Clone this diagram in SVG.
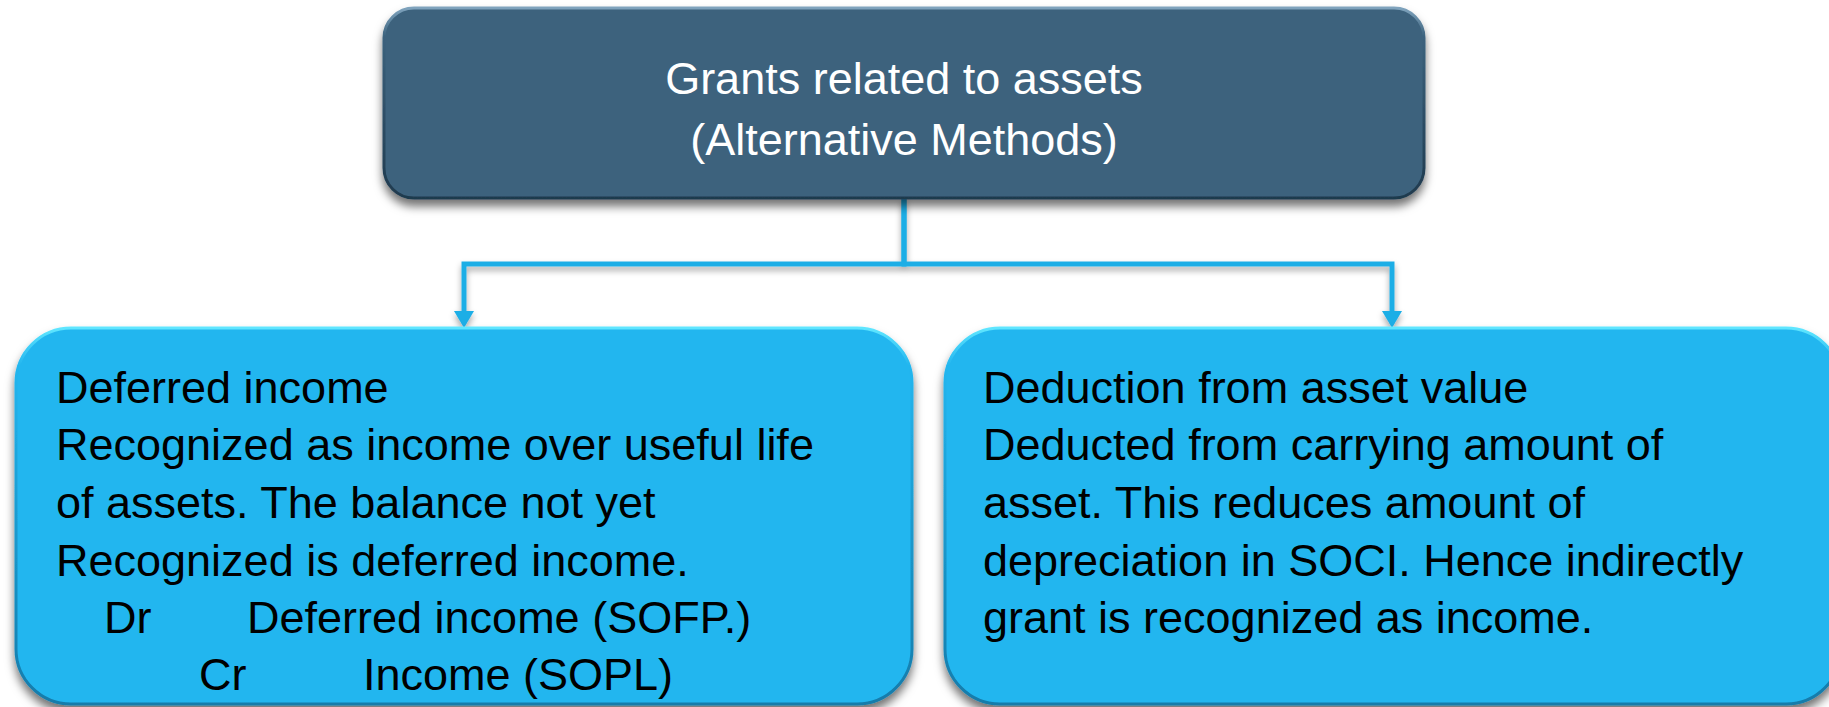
<svg xmlns="http://www.w3.org/2000/svg" width="1829" height="707" viewBox="0 0 1829 707">
  <style>
    .title { font-family: "Liberation Sans", Arial, sans-serif; font-size: 45px; fill: #ffffff; text-anchor: middle; }
    .body { font-family: "Liberation Sans", Arial, sans-serif; font-size: 45px; fill: #000000; }
    .conn { fill: none; stroke: #1faee6; stroke-width: 5; stroke-linejoin: miter; }
  </style>
  <defs>
    <filter id="shadow" x="-10%" y="-10%" width="120%" height="130%">
      <feDropShadow dx="0" dy="7" stdDeviation="5" flood-color="#000000" flood-opacity="0.55"/>
    </filter>
    <filter id="lshadow" x="-10%" y="-10%" width="120%" height="140%">
      <feDropShadow dx="0" dy="4" stdDeviation="3" flood-color="#000000" flood-opacity="0.35"/>
    </filter>
    <linearGradient id="darkRim" x1="0" y1="0" x2="0" y2="1">
      <stop offset="0" stop-color="#7FA3BD"/>
      <stop offset="0.15" stop-color="#3C627D"/>
      <stop offset="1" stop-color="#1F3A4E"/>
    </linearGradient>
    <linearGradient id="cyanRim" x1="0" y1="0" x2="0" y2="1">
      <stop offset="0" stop-color="#5FE6FF"/>
      <stop offset="0.1" stop-color="#23B6EF"/>
      <stop offset="1" stop-color="#137BAA"/>
    </linearGradient>
    <marker id="arrow" markerUnits="userSpaceOnUse" markerWidth="18" markerHeight="20" refX="0" refY="10" orient="auto" overflow="visible">
      <path d="M0,0 L17,10 L0,20 z" fill="#1faee6"/>
    </marker>
  </defs>

  <g id="connectors" filter="url(#lshadow)">
    <path class="conn" d="M904,198 V264 H464 V311" marker-end="url(#arrow)"/>
    <path class="conn" d="M904,198 V264 H1392 V311" marker-end="url(#arrow)"/>
  </g>

  <g id="node-top">
    <rect x="384" y="8" width="1040" height="190" rx="30" ry="30" fill="#3C627D" stroke="url(#darkRim)" stroke-width="3" filter="url(#shadow)"/>
    <text class="title" x="904" y="94">Grants related to assets</text>
    <text class="title" x="904" y="155">(Alternative Methods)</text>
  </g>

  <g id="node-left">
    <rect x="16" y="328" width="896" height="376" rx="55" ry="55" fill="#23B6EF" stroke="url(#cyanRim)" stroke-width="3" filter="url(#shadow)"/>
    <text class="body" x="56" y="403">Deferred income</text>
    <text class="body" x="56" y="460">Recognized as income over useful life</text>
    <text class="body" x="56" y="518">of assets. The balance not yet</text>
    <text class="body" x="56" y="576">Recognized is deferred income.</text>
    <text class="body" x="104" y="633">Dr</text>
    <text class="body" x="247" y="633">Deferred income (SOFP.)</text>
    <text class="body" x="199" y="690">Cr</text>
    <text class="body" x="363" y="690">Income (SOPL)</text>
  </g>

  <g id="node-right">
    <rect x="945" y="328" width="896" height="376" rx="55" ry="55" fill="#23B6EF" stroke="url(#cyanRim)" stroke-width="3" filter="url(#shadow)"/>
    <text class="body" x="983" y="403">Deduction from asset value</text>
    <text class="body" x="983" y="460">Deducted from carrying amount of</text>
    <text class="body" x="983" y="518">asset. This reduces amount of</text>
    <text class="body" x="983" y="576">depreciation in SOCI. Hence indirectly</text>
    <text class="body" x="983" y="633">grant is recognized as income.</text>
  </g>
</svg>
